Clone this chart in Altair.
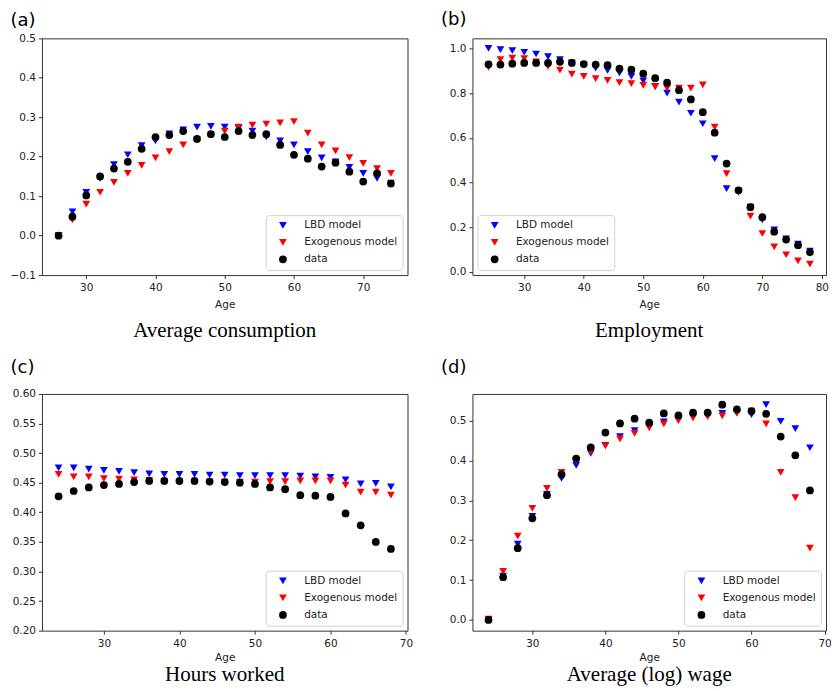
import altair as alt
import pandas as pd

SERIES = ["LBD model", "Exogenous model", "data"]
COLORS = ["#0000ff", "#ff0000", "#000000"]
SHAPES = ["triangle-down", "triangle-down", "circle"]

# (a) Average consumption
ages_a = [26, 28, 30, 32, 34, 36, 38, 40, 42, 44, 46, 48, 50, 52, 54, 56, 58, 60, 62, 64, 66, 68, 70, 72, 74]
cons_lbd = [0.0, 0.06, 0.11, 0.145, 0.18, 0.205, 0.228, 0.24, 0.258, 0.268, 0.275, 0.277, 0.275, 0.272, 0.265,
            0.25, 0.24, 0.23, 0.213, 0.197, 0.187, 0.173, 0.158, 0.145, 0.133]
cons_exo = [0.0, 0.04, 0.08, 0.11, 0.135, 0.158, 0.178, 0.197, 0.213, 0.23, 0.243, 0.255, 0.265, 0.275, 0.28,
            0.283, 0.286, 0.289, 0.26, 0.23, 0.215, 0.198, 0.183, 0.17, 0.158]
cons_data = [0.0, 0.048, 0.102, 0.15, 0.17, 0.187, 0.22, 0.25, 0.255, 0.265, 0.245, 0.257, 0.25, 0.265, 0.255,
             0.257, 0.23, 0.205, 0.195, 0.175, 0.185, 0.162, 0.137, 0.158, 0.132]

# (b) Employment
ages_b = [24, 26, 28, 30, 32, 34, 36, 38, 40, 42, 44, 46, 48, 50, 52, 54, 56, 58, 60, 62, 64, 66, 68, 70, 72, 74,
          76, 78]
emp_lbd = [1.0, 0.995, 0.99, 0.983, 0.975, 0.963, 0.95, 0.935, 0.925, 0.912, 0.902, 0.89, 0.875, 0.855, 0.83,
           0.8, 0.76, 0.71, 0.663, 0.507, 0.373, 0.357, 0.29, 0.233, 0.188, 0.148, 0.125, 0.093]
emp_exo = [0.915, 0.95, 0.957, 0.955, 0.94, 0.92, 0.903, 0.885, 0.875, 0.865, 0.857, 0.847, 0.843, 0.835, 0.828,
           0.822, 0.822, 0.822, 0.837, 0.648, 0.44, 0.362, 0.25, 0.172, 0.112, 0.077, 0.05, 0.035]
emp_data = [0.929, 0.928, 0.932, 0.935, 0.935, 0.935, 0.94, 0.935, 0.93, 0.928, 0.925, 0.91, 0.905, 0.887, 0.867,
            0.847, 0.813, 0.772, 0.715, 0.623, 0.485, 0.365, 0.29, 0.245, 0.18, 0.145, 0.12, 0.088]

# (c) Hours worked and (d) Average (log) wage
ages_cd = [24, 26, 28, 30, 32, 34, 36, 38, 40, 42, 44, 46, 48, 50, 52, 54, 56, 58, 60, 62, 64, 66, 68]
hours_lbd = [0.475, 0.475, 0.473, 0.471, 0.469, 0.467, 0.465, 0.464, 0.464, 0.464, 0.463, 0.463, 0.462, 0.462,
             0.462, 0.462, 0.461, 0.46, 0.459, 0.455, 0.448, 0.449, 0.443]
hours_exo = [0.464, 0.46, 0.46, 0.457, 0.456, 0.455, 0.454, 0.452, 0.451, 0.451, 0.451, 0.451, 0.451, 0.451,
             0.452, 0.452, 0.453, 0.453, 0.453, 0.446, 0.434, 0.434, 0.429]
hours_data = [0.427, 0.436, 0.442, 0.446, 0.448, 0.451, 0.453, 0.453, 0.453, 0.453, 0.452, 0.451, 0.45, 0.448,
              0.442, 0.439, 0.429, 0.428, 0.426, 0.398, 0.378, 0.35, 0.338]
wage_lbd = [0.0, 0.11, 0.19, 0.26, 0.315, 0.355, 0.388, 0.418, 0.438, 0.46, 0.475, 0.488, 0.497, 0.503, 0.51,
            0.515, 0.518, 0.52, 0.515, 0.54, 0.498, 0.48, 0.432]
wage_exo = [0.002, 0.122, 0.21, 0.28, 0.33, 0.37, 0.4, 0.422, 0.437, 0.454, 0.468, 0.482, 0.492, 0.5, 0.507,
            0.51, 0.512, 0.518, 0.524, 0.492, 0.37, 0.307, 0.18]
wage_data = [0.0, 0.107, 0.18, 0.255, 0.313, 0.365, 0.405, 0.433, 0.47, 0.493, 0.505, 0.495, 0.518, 0.513, 0.52,
             0.52, 0.54, 0.528, 0.524, 0.517, 0.46, 0.413, 0.325]


def long_table(ages, lbd, exo, dat):
    # blue first, then red, then black so the data dots sit on top
    parts = [pd.DataFrame({"age": ages, "value": vals, "series": name})
             for name, vals in zip(SERIES, [lbd, exo, dat])]
    return pd.concat(parts, ignore_index=True)


def panel(df, width, x_dom, x_ticks, y_dom, y_ticks, y_fmt, tag, tag_y, caption, cap_offset, age_pad, corner):
    title = alt.Title(caption, orient="bottom", anchor="middle", font="Liberation Serif",
                      fontSize=21, fontWeight="normal", color="black", offset=cap_offset)
    return (
        alt.Chart(df, title=title)
        .mark_point(filled=True, opacity=1, size=60)
        .encode(
            x=alt.X("age:Q").scale(domain=x_dom, nice=False, zero=False).axis(
                values=x_ticks, title="Age", titlePadding=age_pad),
            y=alt.Y("value:Q").scale(domain=y_dom, nice=False, zero=False).axis(
                values=y_ticks, format=y_fmt, title=tag, titleAngle=0, titleAlign="left",
                titleBaseline="middle", titleX=-32, titleY=tag_y, titleFontSize=18,
                titleFont="DejaVu Sans", titleFontWeight="normal", titleColor="black"),
            color=alt.Color("series:N").scale(domain=SERIES, range=COLORS).legend(
                title=None, orient=corner, offset=5),
            shape=alt.Shape("series:N").scale(domain=SERIES, range=SHAPES),
        )
        .properties(width=width, height=237)
    )


a = panel(long_table(ages_a, cons_lbd, cons_exo, cons_data), 366, [23.6, 76.4], [30, 40, 50, 60, 70],
          [-0.1, 0.5], [-0.1, 0.0, 0.1, 0.2, 0.3, 0.4, 0.5], ".1f", "(a)", -18,
          "Average consumption", 10, 6, "bottom-right")
b = panel(long_table(ages_b, emp_lbd, emp_exo, emp_data), 354, [21.3, 80.7], [30, 40, 50, 60, 70, 80],
          [-0.014, 1.045], [0.0, 0.2, 0.4, 0.6, 0.8, 1.0], ".1f", "(b)", -19,
          "Employment", 10, 6, "bottom-left")
c = panel(long_table(ages_cd, hours_lbd, hours_exo, hours_data), 366, [21.8, 70.2], [30, 40, 50, 60, 70],
          [0.2, 0.6], [0.2, 0.25, 0.3, 0.35, 0.4, 0.45, 0.5, 0.55, 0.6], ".2f", "(c)", -26,
          "Hours worked", 0.5, 4, "bottom-right")
d = panel(long_table(ages_cd, wage_lbd, wage_exo, wage_data), 354, [21.8, 70.2], [30, 40, 50, 60, 70],
          [-0.027, 0.567], [0.0, 0.1, 0.2, 0.3, 0.4, 0.5], ".1f", "(d)", -26,
          "Average (log) wage", 0.5, 4, "bottom-right")

chart = (
    alt.concat(a, b, c, d, columns=2, spacing={"row": 119, "column": 65}, bounds="flush")
    .resolve_scale(color="independent", shape="independent")
    .properties(padding={"left": 1, "top": 1, "right": 0, "bottom": 0}, background="white")
    .configure_view(stroke="#333333", strokeWidth=1)
    .configure_axis(
        domain=False, grid=False, ticks=True, tickColor="#333333", tickSize=3.5, tickWidth=1,
        labelFont="DejaVu Sans", labelFontSize=10.5, labelColor="#222222", labelPadding=3,
        titleFont="DejaVu Sans", titleFontSize=10.5, titleFontWeight="normal", titleColor="#222222",
    )
    .configure_axisX(labelPadding=4)
    .configure_legend(
        padding=5, strokeColor="#d0d0d0", fillColor="white", cornerRadius=3,
        labelFont="DejaVu Sans", labelFontSize=10.5, labelColor="#222222", labelOffset=16,
        symbolSize=60, symbolOffset=7, rowPadding=6, symbolStrokeWidth=0,
    )
)

chart.save("out.html", embed_options={"renderer": "svg", "actions": False})
